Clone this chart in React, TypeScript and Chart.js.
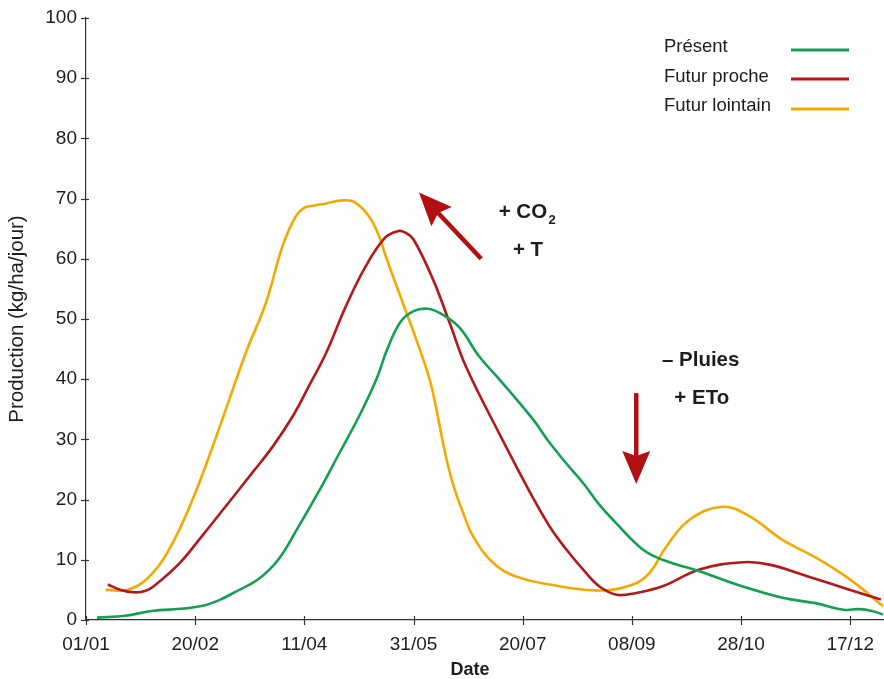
import React, { useEffect, useRef } from "react";
import { Chart, registerables } from "chart.js";

Chart.register(...registerables);

// ---- Axis ticks ----
const xTickDays = [0, 50, 100, 150, 200, 250, 300, 350];
const xTickLabels = ["01/01", "20/02", "11/04", "31/05", "20/07", "08/09", "28/10", "17/12"];
const yTickValues = [0, 10, 20, 30, 40, 50, 60, 70, 80, 90, 100];

// ---- Series names & colours ----
const seriesNames = ["Présent", "Futur proche", "Futur lointain"];
const seriesColors = ["#14a050", "#b3191c", "#f5a900"];

// ---- Présent (day of year, kg/ha/jour) ----
const presentDays = [5, 18, 30, 45, 54, 61, 68, 79, 88, 97, 107, 116, 125, 133, 138, 144, 150, 156.5, 163, 171, 180, 189.5, 205, 212, 220, 228, 235, 243, 255, 264, 281, 298, 319, 334, 347, 354, 360, 365];
const presentValues = [0.4, 0.7, 1.5, 1.9, 2.4, 3.3, 4.6, 6.8, 10, 15.3, 21.6, 27.7, 33.8, 40, 45, 49.5, 51.3, 51.7, 50.8, 48.6, 43.8, 39.9, 33.2, 29.6, 26, 22.6, 19.2, 16, 11.7, 10, 8.1, 5.9, 3.7, 2.8, 1.7, 1.8, 1.5, 0.9];

// ---- Futur proche ----
const procheDays = [10, 16, 22, 27, 31, 43, 53, 64, 76, 85.5, 94.6, 102, 110, 119, 128, 137, 143, 146, 150, 159, 166.6, 174, 189.5, 204.7, 212.4, 220, 227.6, 235, 243, 252, 264, 281, 301, 313, 331, 350, 364];
const procheValues = [5.9, 5.0, 4.6, 4.8, 5.6, 9.5, 13.9, 18.9, 24.4, 28.8, 33.8, 38.8, 44.4, 52.1, 58.7, 63.5, 64.6, 64.4, 63.2, 56.5, 49.3, 42.1, 30.8, 20.3, 15.5, 11.7, 8.4, 5.6, 4.2, 4.5, 5.6, 8.4, 9.6, 9.2, 7.2, 5, 3.4];

// ---- Futur lointain ----
const lointainDays = [9, 20, 30.5, 39.7, 48.8, 58, 65.6, 73.2, 82.4, 90, 96, 100, 104, 110, 117.5, 123, 129.7, 134.3, 137.3, 146.8, 152.9, 157.8, 160.8, 163.2, 165.9, 168.9, 172.7, 177.3, 186.4, 197.2, 212.4, 235, 250.5, 258, 265.8, 276.5, 291.7, 304, 319, 334.5, 350, 365];
const lointainValues = [5, 5.1, 7.8, 12.8, 20, 28.8, 36.6, 44.4, 52.7, 62.1, 67, 68.5, 68.8, 69.2, 69.7, 69.4, 67, 63.7, 60.4, 51, 44.9, 39.4, 34.4, 30, 25.5, 21.6, 17.8, 13.9, 9.5, 7.2, 5.9, 4.9, 5.9, 7.8, 12.2, 16.7, 18.8, 17.2, 13.3, 10.3, 6.7, 2.3];

// ---- Annotations (in data coordinates: day, value) ----
const arrowUpFrom = [181, 60];
const arrowUpTo = [152.5, 71];
const arrowDownFrom = [252, 37.7];
const arrowDownTo = [252, 22.6];
const co2Label = { day: 189, value: 66.8 };
const tLabel = { day: 195.5, value: 60.4 };
const pluiesLabel = { day: 281.5, value: 42.2 };
const etoLabel = { day: 282, value: 35.8 };

const FONT = "'Liberation Sans', Arial, Helvetica, sans-serif";
const TEXT = "#1d1d1b";
const ARROW = "#b30f12";

function toPoints(days: number[], values: number[]) {
  return days.map((d, i) => ({ x: d, y: values[i] }));
}

function drawArrow(ctx: CanvasRenderingContext2D, x1: number, y1: number, x2: number, y2: number) {
  const headLen = 33;
  const halfW = 14;
  const notch = 5;
  const dx = x2 - x1;
  const dy = y2 - y1;
  const len = Math.hypot(dx, dy);
  const ux = dx / len;
  const uy = dy / len;
  const nx = -uy;
  const ny = ux;
  ctx.save();
  ctx.strokeStyle = ARROW;
  ctx.fillStyle = ARROW;
  ctx.lineWidth = 4.5;
  ctx.beginPath();
  ctx.moveTo(x1, y1);
  ctx.lineTo(x2 - ux * (headLen - notch), y2 - uy * (headLen - notch));
  ctx.stroke();
  const bx = x2 - ux * headLen;
  const by = y2 - uy * headLen;
  ctx.beginPath();
  ctx.moveTo(x2, y2);
  ctx.lineTo(bx + nx * halfW, by + ny * halfW);
  ctx.lineTo(x2 - ux * (headLen - notch), y2 - uy * (headLen - notch));
  ctx.lineTo(bx - nx * halfW, by - ny * halfW);
  ctx.closePath();
  ctx.fill();
  ctx.restore();
}

const overlayPlugin = {
  id: "overlay",
  afterDatasetsDraw(chart: any) {
    const ctx: CanvasRenderingContext2D = chart.ctx;
    const xs = chart.scales.x;
    const ys = chart.scales.y;
    const area = chart.chartArea;
    ctx.save();

    // tick marks crossing the axes
    ctx.strokeStyle = "#333333";
    ctx.lineWidth = 1.2;
    xTickDays.forEach((d) => {
      const px = Math.round(xs.getPixelForValue(d)) + 0.5;
      ctx.beginPath();
      ctx.moveTo(px, area.bottom - 4);
      ctx.lineTo(px, area.bottom + 5);
      ctx.stroke();
    });
    yTickValues.forEach((v) => {
      const py = Math.round(ys.getPixelForValue(v)) + 0.5;
      ctx.beginPath();
      ctx.moveTo(area.left - 5, py);
      ctx.lineTo(area.left + 3, py);
      ctx.stroke();
    });

    // x axis title
    ctx.fillStyle = TEXT;
    ctx.font = `bold 18px ${FONT}`;
    ctx.textAlign = "center";
    ctx.textBaseline = "alphabetic";
    ctx.fillText("Date", 470, 675);

    // legend
    ctx.font = `18.5px ${FONT}`;
    ctx.textAlign = "left";
    const legendTop = [52, 81.5, 111];
    const lineY = [50, 79, 109];
    chart.data.datasets.forEach((ds: any, i: number) => {
      ctx.fillStyle = TEXT;
      ctx.fillText(ds.label, 664, legendTop[i]);
      ctx.strokeStyle = ds.borderColor;
      ctx.lineWidth = 3;
      ctx.beginPath();
      ctx.moveTo(791, lineY[i]);
      ctx.lineTo(849, lineY[i]);
      ctx.stroke();
    });

    // annotation arrows
    drawArrow(ctx, xs.getPixelForValue(arrowUpFrom[0]), ys.getPixelForValue(arrowUpFrom[1]), xs.getPixelForValue(arrowUpTo[0]), ys.getPixelForValue(arrowUpTo[1]));
    drawArrow(ctx, xs.getPixelForValue(arrowDownFrom[0]), ys.getPixelForValue(arrowDownFrom[1]), xs.getPixelForValue(arrowDownTo[0]), ys.getPixelForValue(arrowDownTo[1]));

    // annotation texts
    ctx.fillStyle = TEXT;
    ctx.font = `bold 20.5px ${FONT}`;
    ctx.textAlign = "left";
    const cx = xs.getPixelForValue(co2Label.day);
    const cy = ys.getPixelForValue(co2Label.value);
    ctx.fillText("+ CO", cx, cy);
    const w = ctx.measureText("+ CO").width;
    ctx.font = `bold 13px ${FONT}`;
    ctx.fillText("2", cx + w + 1.5, cy + 6.5);
    ctx.font = `bold 20.5px ${FONT}`;
    ctx.fillText("+ T", xs.getPixelForValue(tLabel.day), ys.getPixelForValue(tLabel.value));
    ctx.textAlign = "center";
    ctx.fillText("– Pluies", xs.getPixelForValue(pluiesLabel.day), ys.getPixelForValue(pluiesLabel.value));
    ctx.fillText("+ ETo", xs.getPixelForValue(etoLabel.day), ys.getPixelForValue(etoLabel.value));

    ctx.restore();
  },
};

export default function App() {
  const canvasRef = useRef<HTMLCanvasElement | null>(null);

  useEffect(() => {
    const canvas = canvasRef.current;
    if (!canvas) return;
    const series = [
      toPoints(presentDays, presentValues),
      toPoints(procheDays, procheValues),
      toPoints(lointainDays, lointainValues),
    ];
    const chart = new Chart(canvas, {
      type: "line",
      data: {
        datasets: series.map((pts, i) => ({
          label: seriesNames[i],
          data: pts,
          borderColor: seriesColors[i],
          backgroundColor: seriesColors[i],
          borderWidth: 2.6,
          pointRadius: 0,
          fill: false,
          tension: 0.4,
        })),
      },
      options: {
        responsive: false,
        animation: false,
        events: [],
        layout: { padding: { top: 18, right: 1, bottom: 0, left: 0 } },
        plugins: {
          legend: { display: false },
          tooltip: { enabled: false },
        },
        scales: {
          x: {
            type: "linear",
            min: 0,
            max: 365,
            afterBuildTicks: (axis: any) => {
              axis.ticks = xTickDays.map((v) => ({ value: v }));
            },
            afterFit: (scale: any) => {
              scale.height = 59;
            },
            grid: { display: false, drawTicks: true, tickLength: 5 },
            border: { display: true, color: "#333333", width: 1.2 },
            ticks: {
              padding: 8,
              maxRotation: 0,
              autoSkip: false,
              color: TEXT,
              font: { family: FONT, size: 19 },
              callback: (value: any) => {
                const idx = xTickDays.indexOf(Number(value));
                return idx >= 0 ? xTickLabels[idx] : "";
              },
            },
          },
          y: {
            type: "linear",
            min: 0,
            max: 100,
            afterBuildTicks: (axis: any) => {
              axis.ticks = yTickValues.map((v) => ({ value: v }));
            },
            afterFit: (scale: any) => {
              scale.width = 86;
            },
            grid: { display: false, drawTicks: true, tickLength: 5 },
            border: { display: true, color: "#333333", width: 1.2 },
            title: {
              display: true,
              text: "Production (kg/ha/jour)",
              color: TEXT,
              font: { family: FONT, size: 20.5 },
              padding: { top: 5.5, bottom: 0 },
            },
            ticks: {
              padding: 4,
              color: TEXT,
              font: { family: FONT, size: 19 },
            },
          },
        },
      },
      plugins: [overlayPlugin],
    });
    return () => chart.destroy();
  }, []);

  return (
    <div style={{ position: "absolute", left: 0, top: 0, width: 884, height: 679, background: "#ffffff" }}>
      <canvas ref={canvasRef} width={884} height={679} style={{ display: "block", width: 884, height: 679 }} />
    </div>
  );
}
